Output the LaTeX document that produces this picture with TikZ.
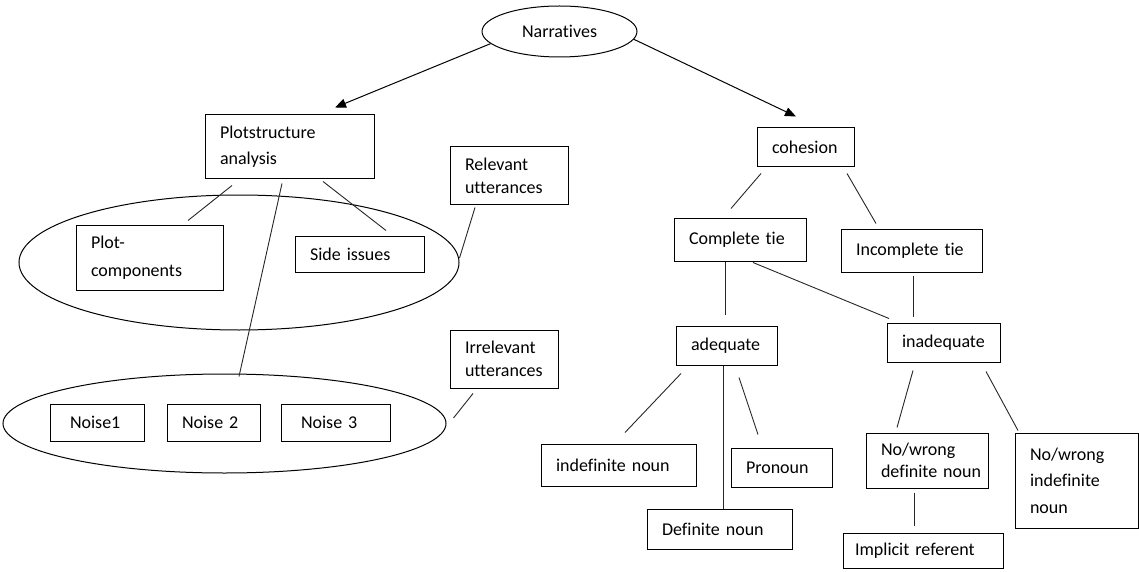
\documentclass[tikz,border=0pt]{standalone}
\usepackage{fontspec}
\setmainfont{Carlito}[Ligatures=NoCommon]
\usepackage{tikz}
\usetikzlibrary{shapes.geometric,arrows.meta}
\hyphenpenalty=10000
\tikzset{
  box/.style={draw, line width=1pt, inner xsep=15pt, inner ysep=0pt, align=left, font=\fontsize{18}{26}\selectfont},
  tight/.style={font=\fontsize{18}{23}\selectfont},
  oval/.style={draw, ellipse, line width=1pt, inner sep=0pt, font=\fontsize{18}{26}\selectfont},
  ln/.style={line width=0.9pt, black!85},
  arr/.style={line width=1pt, -{Triangle[length=11pt,width=9pt]}}
}

\begin{document}
\begin{tikzpicture}[x=1pt, y=-1pt]
    \useasboundingbox (0,0) rectangle (1139,572);

    \node[oval, minimum width=155pt, minimum height=51pt] (narr) at (559.5,31.5) {Narratives};
    \node[oval, minimum width=440pt, minimum height=135pt] (relset) at (239,262.5) {};
    \node[oval, minimum width=443pt, minimum height=99pt] (noiseset) at (224.5,423.5) {};

    \node[box, text width=139pt, minimum height=63pt] (plot) at (289.5,146.5) {Plotstructure\\analysis};
    \node[box, tight, text width=88pt, minimum height=57pt] (relev) at (509,175.5) {Relevant\\utterances};
    \node[box, font=\fontsize{18}{28}\selectfont, text width=117pt, minimum height=65pt] (comps) at (149.5,257.5) {Plot-\\components};
    \node[box, text width=99pt, minimum height=36pt] (side) at (359.5,254) {Side issues};
    \node[box, tight, text width=78pt, minimum height=58pt] (irrel) at (504,359) {Irrelevant\\utterances};
    \node[box, inner xsep=20pt, text width=54pt, minimum height=37pt] (noise1) at (97,422.5) {Noise1};
    \node[box, text width=63pt, minimum height=37pt] (noise2) at (213.5,422.5) {Noise 2};
    \node[box, inner xsep=20pt, text width=69pt, minimum height=37pt] (noise3) at (335.5,422.5) {Noise 3};

    \node[box, text width=67pt, minimum height=39pt] (coh) at (805.5,147.5) {cohesion};
    \node[box, text width=102pt, minimum height=43pt] (ctie) at (740,239.5) {Complete tie};
    \node[box, text width=111pt, minimum height=43pt] (itie) at (911.5,250.5) {Incomplete tie};
    \node[box, text width=71pt, minimum height=39pt] (adeq) at (726.5,345.5) {adequate};
    \node[box, text width=83pt, minimum height=39pt] (inadeq) at (943.5,342.5) {inadequate};
    \node[box, text width=125pt, minimum height=42pt] (indefn) at (618.5,465) {indefinite noun};
    \node[box, text width=71pt, minimum height=39pt] (pron) at (781.5,467.5) {Pronoun};
    \node[box, text width=115pt, minimum height=40pt] (defn) at (719.5,529) {Definite noun};
    \node[box, font=\fontsize{18}{22}\selectfont, text width=92pt, minimum height=55pt] (nwdef) at (927,460.5) {No/wrong\\definite~noun};
    \node[box, font=\fontsize{18}{26.5}\selectfont, text width=93pt, minimum height=95pt] (nwindef) at (1076.5,480.5) {No/wrong\\indefinite\\noun};
    \node[box, inner xsep=12pt, text width=136pt, minimum height=35pt] (implref) at (923,550.5) {Implicit referent};

    \draw[arr] (narr.190) -- ([shift={(45.5,-7)}]plot.north);
    \draw[arr] (narr.-6) -- ([shift={(-9.5,-11)}]coh.north);

    \draw[ln] ([shift={(-57.5,7)}]plot.south) -- ([shift={(38.5,-4)}]comps.north);
    \draw[ln] ([shift={(33.5,3)}]plot.south) -- ([shift={(26.5,-5)}]side.north);
    \draw[ln] ([shift={(-7.5,5)}]plot.south) -- ([shift={(14.5,3)}]noiseset.north);
    \draw[ln] ([shift={(-34,3)}]relev.south) -- ([shift={(0,-4.5)}]relset.east);
    \draw[ln] ([shift={(-31,5)}]irrel.south) -- ([shift={(7,-5.5)}]noiseset.east);

    \draw[ln] ([shift={(-44.5,6)}]coh.south) -- ([shift={(-9,-9)}]ctie.north);
    \draw[ln] ([shift={(41.5,6)}]coh.south) -- ([shift={(-35.5,-5)}]itie.north);
    \draw[ln] ([shift={(-15,0)}]ctie.south) -- ([shift={(-1.5,-11)}]adeq.north);
    \draw[ln] ([shift={(13,1)}]ctie.south) -- ([shift={(-54.5,-4)}]inadeq.north);
    \draw[ln] ([shift={(1.5,3)}]itie.south) -- ([shift={(-30.5,-6)}]inadeq.north);
    \draw[ln] ([shift={(-45.5,8)}]adeq.south) -- ([shift={(6.5,-11)}]indefn.north);
    \draw[ln] ([shift={(-3.5,0)}]adeq.south) -- ([shift={(3.5,0)}]defn.north);
    \draw[ln] ([shift={(12.5,12)}]adeq.south) -- ([shift={(-23.5,-13)}]pron.north);
    \draw[ln] ([shift={(-30.5,8)}]inadeq.south) -- ([shift={(-30,-5)}]nwdef.north);
    \draw[ln] ([shift={(42.5,9)}]inadeq.south) -- ([shift={(-58.5,-2)}]nwindef.north);
    \draw[ln] ([shift={(-13,4)}]nwdef.south) -- ([shift={(-9,-7)}]implref.north);
\end{tikzpicture}
\end{document}
